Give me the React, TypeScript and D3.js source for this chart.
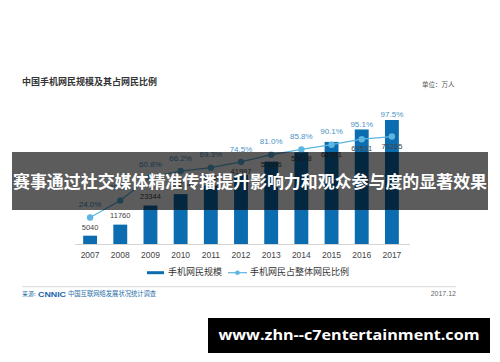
import React from "react";
import * as d3 from "d3";

const years = ["2007","2008","2009","2010","2011","2012","2013","2014","2015","2016","2017"];
const users = [5040, 11760, 23344, 30274, 35558, 41997, 50006, 55678, 61981, 69531, 75265];
const ratios = [24.0, 39.5, 60.8, 66.2, 69.3, 74.5, 81.0, 85.8, 90.1, 95.1, 97.5];
const legendLabels = ["手机网民规模", "手机网民占整体网民比例"];
const title = "中国手机网民规模及其占网民比例";
const unitLabel = "单位：万人";
const sourceLabel = "中国互联网络发展状况统计调查";
const dateLabel = "2017.12";
const bannerText = "赛事通过社交媒体精准传播提升影响力和观众参与度的显著效果";
const urlText = "www.zhn--c7entertainment.com";

const W = 500, H = 362;
const BAR = "#0b6db0";
const LINE = "#5db5e0";
const PCT = "#4a93c6";
const CJK = "'Noto Sans CJK SC', 'Noto Sans', sans-serif";
const NUM = "'Liberation Sans', Arial, sans-serif";

export default function App() {
  const x = d3.scaleBand<string>().domain(years).range([75, 407]).paddingInner(0.54).paddingOuter(0.27);
  const yBar = d3.scaleLinear().domain([0, 80000]).range([244, 112.2]);
  const yPct = d3.scaleLinear().domain([0, 100]).range([244, 133.8]);
  const cx = (y: string) => (x(y) as number) + x.bandwidth() / 2;
  const line = d3.line<number>().x((_, i) => cx(years[i])).y((d) => yPct(d));

  return (
    <svg width={W} height={H} style={{ position: "absolute", left: 0, top: 0, background: "#fff" }}>
      <rect width={W} height={H} fill="#fff" />
      <text x={22} y={83} fontFamily={CJK} fontWeight={700} fontSize={9} fill="#333" dominantBaseline="middle">{title}</text>
      <text x={422} y={85} fontFamily={CJK} fontSize={6.5} fill="#555" dominantBaseline="middle">{unitLabel}</text>

      {years.map((yr, i) => (
        <rect key={yr} x={x(yr)} y={yBar(users[i])} width={x.bandwidth()} height={244 - yBar(users[i])} fill={BAR} />
      ))}
      <line x1={75} x2={410} y1={244.5} y2={244.5} stroke="#d4d4d4" strokeWidth={1} />
      {years.map((yr) => (
        <text key={yr} x={cx(yr)} y={256} textAnchor="middle" dominantBaseline="middle" fontFamily={NUM} fontSize={8.5} fill="#444">{yr}</text>
      ))}

      <path d={line(ratios) || ""} fill="none" stroke={LINE} strokeWidth={1.3} />
      {years.map((yr, i) => (
        <circle key={yr} cx={cx(yr)} cy={yPct(ratios[i])} r={3.2} fill={LINE} />
      ))}
      {years.map((yr, i) => {
        const py = yPct(ratios[i]);
        const by = yBar(users[i]);
        const ly = Math.min(py - 12.5, by - 5);
        return (
          <text key={yr} x={cx(yr)} y={ly} textAnchor="middle" dominantBaseline="middle" fontFamily={NUM} fontSize={8} fill={PCT}>{ratios[i].toFixed(1)}%</text>
        );
      })}
      {years.map((yr, i) => {
        const py = yPct(ratios[i]);
        const by = yBar(users[i]);
        const ly = Math.max(by - 9, py + 10);
        return (
          <text key={yr} x={cx(yr)} y={ly} textAnchor="middle" dominantBaseline="middle" fontFamily={NUM} fontSize={7.5} fill="#444">{users[i]}</text>
        );
      })}

      <line x1={147} x2={164} y1={272.7} y2={272.7} stroke={BAR} strokeWidth={3} />
      <text x={168} y={273} dominantBaseline="middle" fontFamily={CJK} fontSize={9} fill="#333">{legendLabels[0]}</text>
      <line x1={228} x2={247} y1={272.7} y2={272.7} stroke={LINE} strokeWidth={1.2} />
      <circle cx={237.5} cy={272.7} r={2.3} fill={LINE} />
      <text x={250} y={273} dominantBaseline="middle" fontFamily={CJK} fontSize={9} fill="#333">{legendLabels[1]}</text>

      <line x1={22} x2={456} y1={286.7} y2={286.7} stroke="#cfcfcf" strokeWidth={0.8} />
      <text x={22} y={294.5} dominantBaseline="middle" fontFamily={CJK} fontSize={6} fill="#2a6ea8">来源:</text>
      <text x={38} y={294.5} dominantBaseline="middle" fontFamily={NUM} fontWeight={700} fontSize={8} fill="#1a63a8" textLength={28} lengthAdjust="spacingAndGlyphs">CNNIC</text>
      <text x={68} y={294.5} dominantBaseline="middle" fontFamily={CJK} fontSize={6.3} fill="#2a6ea8">{sourceLabel}</text>
      <text x={456} y={294.5} textAnchor="end" dominantBaseline="middle" fontFamily={NUM} fontSize={7} fill="#666">{dateLabel}</text>

      <rect x={12} y={152} width={476} height={58} fill="rgba(0,0,0,0.64)" />
      <text x={250} y={183} textAnchor="middle" dominantBaseline="middle" fontFamily={CJK} fontWeight={700} fontSize={17} fill="#fff" textLength={474} lengthAdjust="spacingAndGlyphs">{bannerText}</text>

      <rect x={208} y={318} width={282} height={35} fill="#000" />
      <text x={349} y={336} textAnchor="middle" dominantBaseline="middle" fontFamily="'Open Sans', 'DejaVu Sans', sans-serif" fontWeight={700} fontSize={15} fill="#fff" textLength={261} lengthAdjust="spacingAndGlyphs">{urlText}</text>
    </svg>
  );
}
